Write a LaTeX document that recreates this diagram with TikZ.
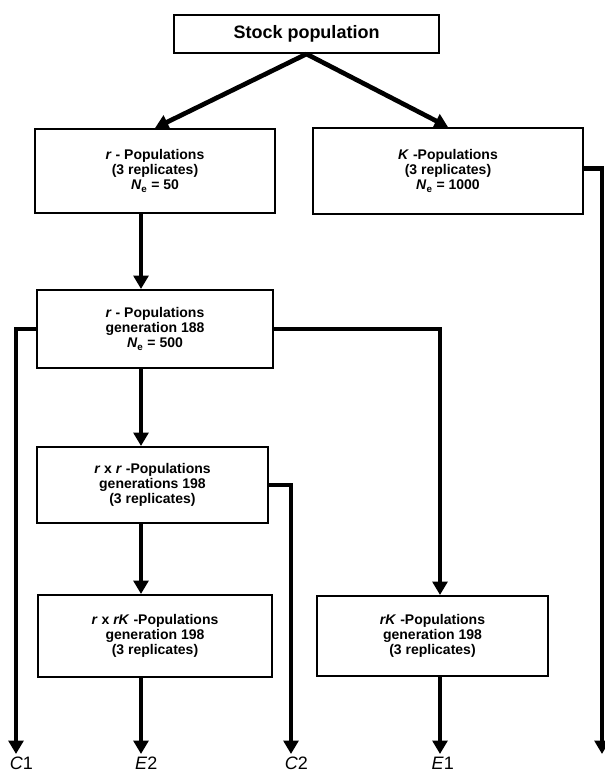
\documentclass[tikz,border=0pt]{standalone}
\usepackage{fontspec}
\setmainfont{Liberation Sans}
\usetikzlibrary{positioning, arrows.meta}

\begin{document}
\begin{tikzpicture}[x=0.75pt, y=-0.75pt, >={Triangle[length=10pt, width=11pt]},
    box/.style={draw, line width=1.5pt, align=center, inner sep=0pt, font=\fontsize{10.5}{11.25}\selectfont\bfseries},
    flow/.style={->, line width=3.5pt},
    tag/.style={inner sep=0pt, font=\fontsize{13.5}{16}\selectfont}]

    \useasboundingbox (0,0) rectangle (605,775);

    \node[box, minimum width=198.75pt, minimum height=28.5pt, font=\fontsize{13.5}{16}\selectfont\bfseries] (stock) at (306.5,34) {Stock population};

    \node[box, minimum width=180pt, minimum height=63pt] (rpop) at (155,171) {\textit{r} - Populations\\(3 replicates)\\\textit{N}\textsubscript{e} = 50};
    \node[box, minimum width=202.5pt, minimum height=64.5pt, right=27pt of rpop] (kpop) {\textit{K} -Populations\\(3 replicates)\\\textit{N}\textsubscript{e} = 1000};

    \node[box, minimum width=177pt, minimum height=58.5pt, below=56.25pt of rpop] (rgen) {\textit{r} - Populations\\generation 188\\\textit{N}\textsubscript{e} = 500};
    \node[box, minimum width=173.25pt, minimum height=57pt, below=57.75pt of rgen, xshift=-1.9pt] (rxr) {\textit{r} x \textit{r} -Populations\\generations 198\\(3 replicates)};
    \node[box, minimum width=175.5pt, minimum height=61.5pt, below=52.5pt of rxr, xshift=1.9pt] (rxrk) {\textit{r} x \textit{rK} -Populations\\generation 198\\(3 replicates)};
    \node[box, minimum width=173.25pt, minimum height=60pt, right=32.25pt of rxrk] (rk) {\textit{rK} -Populations\\generation 198\\(3 replicates)};

    % columns and free ends
    \coordinate (col) at (141,0);
    \coordinate (colE) at (440,0);
    \coordinate (c1) at (16,754);
    \coordinate (e2) at (141,754);
    \coordinate (c2) at (291,754);
    \coordinate (e1) at (440,754);
    \coordinate (kend) at (602,754);

    \draw[flow] (stock.south) -- (rpop.north);
    \draw[flow] (stock.south) -- (kpop.north);
    \draw[flow] ([yshift=2pt]kpop.east) -| (kend);

    \draw[flow] (rpop.south -| col) -- (rgen.north -| col);
    \draw[flow] (rgen.west) -| (c1);
    \draw[flow] (rgen.east) -| (rk.north -| colE);
    \draw[flow] (rgen.south -| col) -- (rxr.north -| col);
    \draw[flow] (rxr.east) -| (c2);
    \draw[flow] (rxr.south -| col) -- (rxrk.north -| col);
    \draw[flow] (rxrk.south -| col) -- (e2);
    \draw[flow] (rk.south -| colE) -- (e1);

    \node[tag, below=2pt of c1, xshift=4pt] (lc1) {\textit{C}1};
    \node[tag, below=2pt of e2, xshift=4pt] (le2) {\textit{E}2};
    \node[tag, below=2pt of c2, xshift=4pt] (lc2) {\textit{C}2};
    \node[tag, below=2pt of e1, xshift=2pt] (le1) {\textit{E}1};
\end{tikzpicture}
\end{document}
